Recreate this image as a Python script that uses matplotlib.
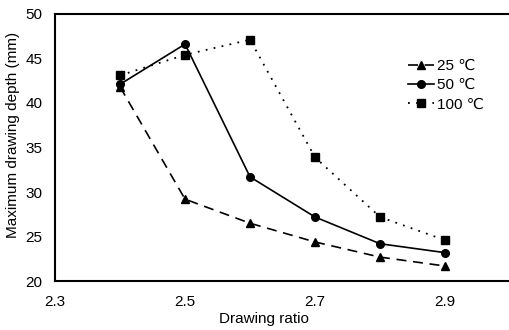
import matplotlib
matplotlib.use("Agg")
import matplotlib.pyplot as plt

plt.rcParams['font.family'] = ['Liberation Sans', 'DejaVu Sans']

ratio = [2.4, 2.5, 2.6, 2.7, 2.8, 2.9]
depth_25 = [41.8, 29.2, 26.5, 24.4, 22.7, 21.7]
depth_50 = [42.1, 46.6, 31.7, 27.2, 24.2, 23.2]
depth_100 = [43.1, 45.4, 47.1, 33.9, 27.2, 24.6]
labels = ['25 ℃', '50 ℃', '100 ℃']
xticks = [2.3, 2.5, 2.7, 2.9]
yticks = [20, 25, 30, 35, 40, 45, 50]

fig = plt.figure(figsize=(5.1, 3.3), dpi=100)
ax = fig.add_axes([0.108, 0.148, 0.892, 0.81])

ax.plot(ratio, depth_25, color='black', lw=1.2, dashes=(6, 4),
        marker='^', ms=6, label=labels[0])
ax.plot(ratio, depth_50, color='black', lw=1.2, ls='-',
        marker='o', ms=5.5, label=labels[1])
ax.plot(ratio, depth_100, color='black', lw=1.3, dashes=(1, 3.5),
        marker='s', ms=6, label=labels[2])

ax.set_xlim(2.3, 3.0)
ax.set_ylim(20, 50)
ax.set_xticks(xticks)
ax.set_xticklabels([f'{v:.1f}' for v in xticks])
ax.set_yticks(yticks)
ax.tick_params(length=0, labelsize=11)
ax.tick_params(axis='x', pad=10)
ax.tick_params(axis='y', pad=9)

for side in ('left', 'bottom', 'top'):
    ax.spines[side].set_linewidth(1.5)
ax.spines['right'].set_visible(False)

ax.set_xlabel('Drawing ratio', fontsize=11)
ax.xaxis.set_label_coords(0.46, -0.115)
ax.set_ylabel('Maximum drawing depth (mm)', fontsize=11)
ax.yaxis.set_label_coords(-0.078, 0.547)

leg = ax.legend(loc='upper left', bbox_to_anchor=(0.76, 0.86), frameon=False,
                fontsize=11, handlelength=1.7, handletextpad=0.15,
                labelspacing=0.35, borderpad=0)

fig.savefig('out.png', dpi=100)
